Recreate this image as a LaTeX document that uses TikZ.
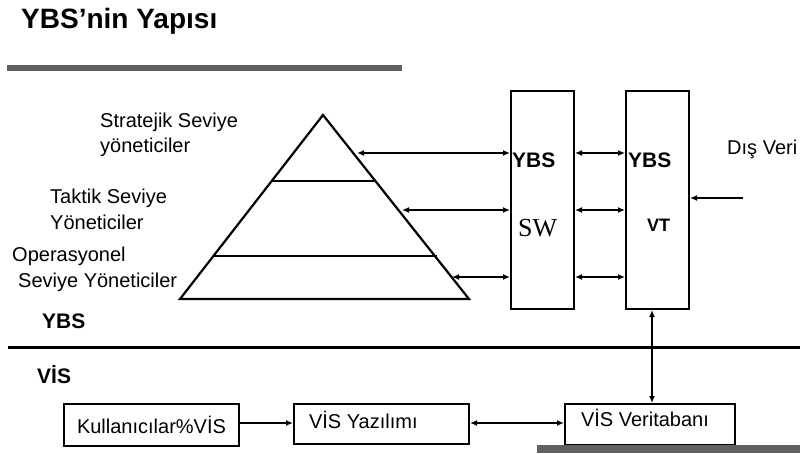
\documentclass[tikz,border=0pt]{standalone}
\usepackage{fontspec}
\setmainfont{Liberation Sans}
\newfontfamily\serifface{Liberation Serif}
\usetikzlibrary{arrows.meta,calc}

\begin{document}
\begin{tikzpicture}[x=1pt,y=-1pt,
  every node/.style={inner sep=0pt, font=\fontsize{20}{25.5}\selectfont},
  frame/.style={draw, line width=2pt},
  column/.style={frame, minimum width=63pt, minimum height=218pt, anchor=north west},
  vbox/.style={frame, anchor=north west},
  link/.style={line width=2.5pt, {Latex[length=7pt,width=6pt]}-{Latex[length=7pt,width=6pt]}},
  onearrow/.style={line width=2.5pt, -{Latex[length=7pt,width=6pt]}},
  bar/.style={fill=black!62, draw=none},
  heading/.style={font=\bfseries\fontsize{21}{24}\selectfont},
  level/.style={anchor=west, align=left},
]
\useasboundingbox (0,0) rectangle (800,454);

% title and rule
\node[anchor=base west, font=\bfseries\fontsize{28}{32}\selectfont] (title) at (21,29) {YBS\char"0027 nin Yapısı};
\fill[bar] (7,65) rectangle (402,71);

% management pyramid
\coordinate (apex) at (323,115);
\coordinate (bl) at (180,299);
\coordinate (br) at (469,299);
\draw[line width=2.2pt, line join=miter] (bl) -- (apex) -- (br) -- cycle;
\draw[line width=2.2pt] (272,181) -- (374,181);
\draw[line width=2.2pt] (213,256) -- (437,256);

\node[level] (strat) at (100,135) {Stratejik Seviye\\yöneticiler};
\node[level] (takt) at (50,209.5) {Taktik Seviye\\Yöneticiler};
\node[level] (oper) at (12,269.5) {Operasyonel\\\hspace*{6pt}Seviye Yöneticiler};

% software and data columns
\node[column] (sw) at (510,90) {};
\node[column] (vt) at (625,90) {};
\node[heading, anchor=base west] (swt) at (512,168) {YBS};
\node[anchor=base west, font=\serifface\fontsize{26}{30}\selectfont] (swl) at (518,237) {SW};
\node[heading, anchor=base west] (vtt) at (628,168) {YBS};
\node[anchor=base west, font=\bfseries\fontsize{18}{22}\selectfont] (vtl) at (647,232) {VT};

% links between pyramid levels and columns
\coordinate (p1) at (357,153);
\coordinate (p2) at (402,210);
\coordinate (p3) at (452,277);
\foreach \p in {p1,p2,p3}{
  \draw[link] (\p) -- (\p -| sw.west);
  \draw[link] (sw.east |- \p) -- (vt.west |- \p);
}

% external data
\node[anchor=base west] (dis) at (727,155) {Dış Veri};
\coordinate (disin) at (743,198);
\draw[onearrow] (disin) -- (disin -| vt.east);

% boundary between the two systems
\coordinate (lineL) at (8,347);
\coordinate (lineR) at (800,347);
\draw[line width=3pt] (lineL) -- (lineR);
\node[heading, anchor=base west] (ybs) at (42,328) {YBS};
\node[heading, anchor=base west] (vis) at (37,383) {VİS};

% transaction processing boxes (text height/depth fix each baseline)
\node[vbox, minimum width=175pt, minimum height=42pt, text height=17pt, text depth=1pt] (kul) at (63,403)
  {Kullanıcılar\%VİS};
\node[vbox, minimum width=175pt, minimum height=40pt, text height=16pt, text depth=8pt] (yaz) at (293,403)
  {\makebox[145pt][l]{VİS Yazılımı}};
\node[vbox, minimum width=170pt, minimum height=41pt, text height=15pt, text depth=12pt] (db) at (564,403)
  {\makebox[138pt][l]{VİS Veritabanı}};
\fill[bar] (537,445) rectangle (800,453);

\coordinate (row) at (0,423);
\draw[onearrow] (kul.east |- row) -- (yaz.west |- row);
\draw[link] (yaz.east |- row) -- (db.west |- row);

\coordinate (vx) at (652,0);
\draw[link] (vt.south -| vx) -- (db.north -| vx);
\end{tikzpicture}
\end{document}
